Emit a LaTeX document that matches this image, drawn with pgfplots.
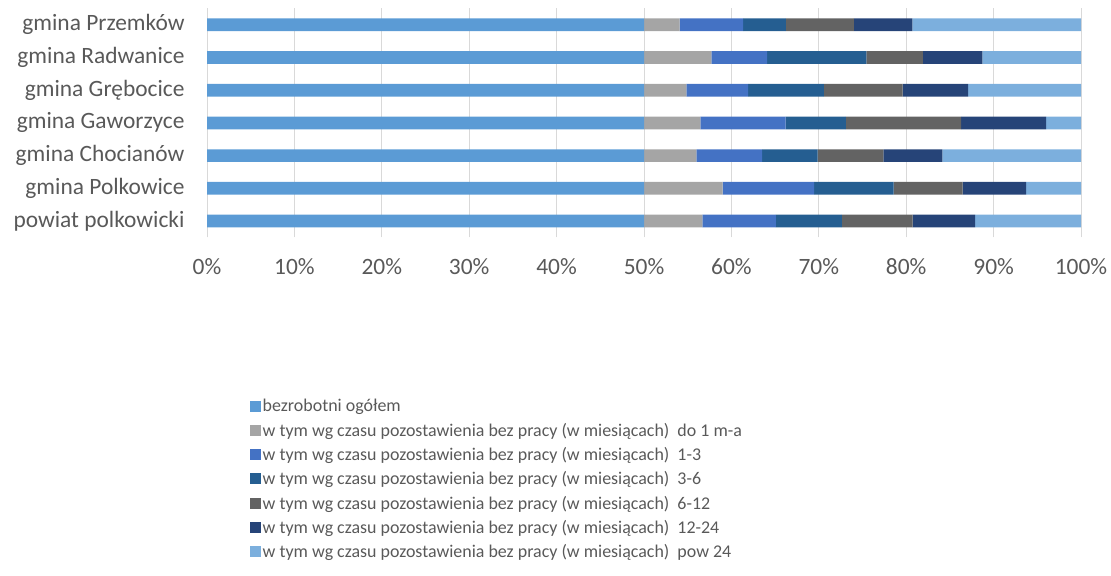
\documentclass[border=0pt]{standalone}
\usepackage{pgfplots}
\pgfplotsset{compat=1.18}
\usepackage{pgfplotstable}
\usepackage{fontspec}
\setmainfont{Carlito}
\definecolor{c1}{HTML}{5B9BD5}
\definecolor{c2}{HTML}{A5A5A5}
\definecolor{c3}{HTML}{4472C4}
\definecolor{c4}{HTML}{255E91}
\definecolor{c5}{HTML}{636363}
\definecolor{c6}{HTML}{264478}
\definecolor{c7}{HTML}{7CAFDD}
\definecolor{txt}{HTML}{595959}
\definecolor{grd}{HTML}{D9D9D9}
\pgfplotstableread{
y a b c d e f g
0 50 6.67 8.42 7.54 8.11 7.13 12.13
1 50 8.99 10.48 9.10 7.89 7.27 6.27
2 50 5.98 7.54 6.33 7.54 6.74 15.87
3 50 6.44 9.75 6.90 13.18 9.75 3.98
4 50 4.84 7.08 8.65 9.03 7.47 12.93
5 50 7.70 6.40 11.35 6.47 6.78 11.30
6 50 4.08 7.27 4.88 7.77 6.70 19.30
}\data
\begin{document}
\begin{tikzpicture}[x=1bp,y=1bp]
\useasboundingbox (0,0) rectangle (1111,576);
\begin{axis}[
  at={(207bp,338.6bp)}, anchor=south west,
  scale only axis, width=874bp, height=228.9bp,
  xbar stacked, bar width=12.7bp,
  xmin=0, xmax=100, ymin=-0.5, ymax=6.5,
  ytick={0,...,6},
  yticklabels={powiat polkowicki, gmina Polkowice, gmina Chocianów, gmina Gaworzyce, gmina Grębocice, gmina Radwanice, gmina Przemków},
  xtick={0,10,...,100},
  xticklabels={0\%,10\%,20\%,30\%,40\%,50\%,60\%,70\%,80\%,90\%,100\%},
  xmajorgrids, major grid style={draw=grd, line width=0.75bp},
  axis lines*=left,
  x axis line style={draw=none},
  y axis line style={draw=grd, line width=0.75bp},
  major tick length=0pt,
  tick label style={font=\fontsize{23.5}{28}\selectfont, text=txt},
  xticklabel style={yshift=-18bp},
  yticklabel style={xshift=-19bp},
  legend style={at={(axis description cs:0.0492,-0.70)}, anchor=north west, draw=none, fill=none,
    font=\fontsize{18}{21}\selectfont, text=txt, inner sep=0pt, row sep=6.7bp,
    nodes={inner sep=1.5bp}},
  legend cell align=left,
  legend image code/.code={\fill[#1] (0bp,-5.5bp) rectangle (11bp,5.5bp);},
]
\addplot[fill=c1, draw=none] table[x=a, y=y] {\data};
\addplot[fill=c2, draw=none] table[x=b, y=y] {\data};
\addplot[fill=c3, draw=none] table[x=c, y=y] {\data};
\addplot[fill=c4, draw=none] table[x=d, y=y] {\data};
\addplot[fill=c5, draw=none] table[x=e, y=y] {\data};
\addplot[fill=c6, draw=none] table[x=f, y=y] {\data};
\addplot[fill=c7, draw=none] table[x=g, y=y] {\data};
\legend{bezrobotni ogółem,
w tym wg czasu pozostawienia bez pracy (w miesiącach)\ \ do 1 m-a,
w tym wg czasu pozostawienia bez pracy (w miesiącach)\ \ 1-3,
w tym wg czasu pozostawienia bez pracy (w miesiącach)\ \ 3-6,
w tym wg czasu pozostawienia bez pracy (w miesiącach)\ \ 6-12,
w tym wg czasu pozostawienia bez pracy (w miesiącach)\ \ 12-24,
w tym wg czasu pozostawienia bez pracy (w miesiącach)\ \ pow 24}
\end{axis}
\end{tikzpicture}
\end{document}
